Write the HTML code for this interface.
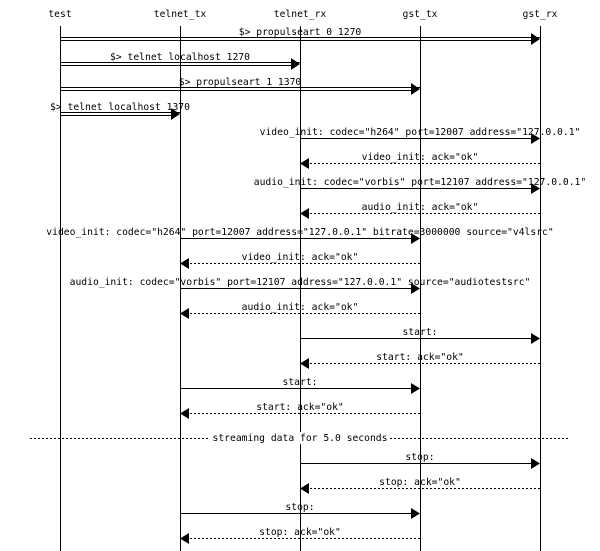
<!DOCTYPE html>
<html><head><meta charset="utf-8"><style>
html,body{margin:0;padding:0;background:#fff;}
svg{display:block}
text{font-family:"DejaVu Sans Mono","Liberation Mono",monospace;font-size:9.7px;fill:#000;}
</style></head><body>
<svg width="600" height="551" viewBox="0 0 600 551" xmlns="http://www.w3.org/2000/svg">
<g text-anchor="middle">
<text x="60" y="17">test</text>
<text x="180" y="17">telnet_tx</text>
<text x="300" y="17">telnet_rx</text>
<text x="420" y="17">gst_tx</text>
<text x="540" y="17">gst_rx</text>
</g>
<g stroke="#000" stroke-width="1">
<line x1="60.5" y1="26" x2="60.5" y2="551"/>
<line x1="180.5" y1="26" x2="180.5" y2="551"/>
<line x1="300.5" y1="26" x2="300.5" y2="551"/>
<line x1="420.5" y1="26" x2="420.5" y2="551"/>
<line x1="540.5" y1="26" x2="540.5" y2="551"/>
</g>
<g stroke="#000" stroke-width="1">
<line x1="60" y1="37.5" x2="540" y2="37.5"/><line x1="60" y1="40.5" x2="532" y2="40.5"/>
<line x1="60" y1="62.5" x2="300" y2="62.5"/><line x1="60" y1="65.5" x2="292" y2="65.5"/>
<line x1="60" y1="87.5" x2="420" y2="87.5"/><line x1="60" y1="90.5" x2="412" y2="90.5"/>
<line x1="60" y1="112.5" x2="180" y2="112.5"/><line x1="60" y1="115.5" x2="172" y2="115.5"/>
</g>
<g fill="#000">
<polygon points="540,39 531,33 531,45"/>
<polygon points="300,64 291,58 291,70"/>
<polygon points="420,89 411,83 411,95"/>
<polygon points="180,114 171,108 171,120"/>
</g>
<g text-anchor="middle">
<text x="300" y="35">$&gt; propulseart 0 1270</text>
<text x="180" y="60">$&gt; telnet localhost 1270</text>
<text x="240" y="85">$&gt; propulseart 1 1370</text>
<text x="120" y="110">$&gt; telnet localhost 1370</text>
</g>
<g stroke="#000" stroke-width="1">
<line x1="300" y1="138.5" x2="532" y2="138.5"/>
<line x1="300" y1="188.5" x2="532" y2="188.5"/>
<line x1="180" y1="238.5" x2="412" y2="238.5"/>
<line x1="180" y1="288.5" x2="412" y2="288.5"/>
<line x1="300" y1="338.5" x2="532" y2="338.5"/>
<line x1="180" y1="388.5" x2="412" y2="388.5"/>
<line x1="300" y1="463.5" x2="532" y2="463.5"/>
<line x1="180" y1="513.5" x2="412" y2="513.5"/>
</g>
<g fill="#000">
<polygon points="540,138.5 531,133 531,144"/>
<polygon points="540,188.5 531,183 531,194"/>
<polygon points="420,238.5 411,233 411,244"/>
<polygon points="420,288.5 411,283 411,294"/>
<polygon points="540,338.5 531,333 531,344"/>
<polygon points="420,388.5 411,383 411,394"/>
<polygon points="540,463.5 531,458 531,469"/>
<polygon points="420,513.5 411,508 411,519"/>
</g>
<g stroke="#000" stroke-width="1" stroke-dasharray="2,2">
<line x1="540" y1="163.5" x2="308" y2="163.5"/>
<line x1="540" y1="213.5" x2="308" y2="213.5"/>
<line x1="420" y1="263.5" x2="188" y2="263.5"/>
<line x1="420" y1="313.5" x2="188" y2="313.5"/>
<line x1="540" y1="363.5" x2="308" y2="363.5"/>
<line x1="420" y1="413.5" x2="188" y2="413.5"/>
<line x1="540" y1="488.5" x2="308" y2="488.5"/>
<line x1="420" y1="538.5" x2="188" y2="538.5"/>
</g>
<g fill="#000">
<polygon points="300,163.5 309,158 309,169"/>
<polygon points="300,213.5 309,208 309,219"/>
<polygon points="180,263.5 189,258 189,269"/>
<polygon points="180,313.5 189,308 189,319"/>
<polygon points="300,363.5 309,358 309,369"/>
<polygon points="180,413.5 189,408 189,419"/>
<polygon points="300,488.5 309,483 309,494"/>
<polygon points="180,538.5 189,533 189,544"/>
</g>
<g text-anchor="middle">
<text x="420" y="135">video_init: codec="h264" port=12007 address="127.0.0.1"</text>
<text x="420" y="160">video_init: ack="ok"</text>
<text x="420" y="185">audio_init: codec="vorbis" port=12107 address="127.0.0.1"</text>
<text x="420" y="210">audio_init: ack="ok"</text>
<text x="300" y="235">video_init: codec="h264" port=12007 address="127.0.0.1" bitrate=3000000 source="v4lsrc"</text>
<text x="300" y="260">video_init: ack="ok"</text>
<text x="300" y="285">audio_init: codec="vorbis" port=12107 address="127.0.0.1" source="audiotestsrc"</text>
<text x="300" y="310">audio_init: ack="ok"</text>
<text x="420" y="335">start:</text>
<text x="420" y="360">start: ack="ok"</text>
<text x="300" y="385">start:</text>
<text x="300" y="410">start: ack="ok"</text>
<text x="420" y="460">stop:</text>
<text x="420" y="485">stop: ack="ok"</text>
<text x="300" y="510">stop:</text>
<text x="300" y="535">stop: ack="ok"</text>
</g>
<line x1="30" y1="438.5" x2="570" y2="438.5" stroke="#000" stroke-dasharray="2,2"/>
<rect x="210" y="432" width="180" height="12" fill="#fff"/>
<text x="300" y="441" text-anchor="middle">streaming data for 5.0 seconds</text>
</svg>
</body></html>
